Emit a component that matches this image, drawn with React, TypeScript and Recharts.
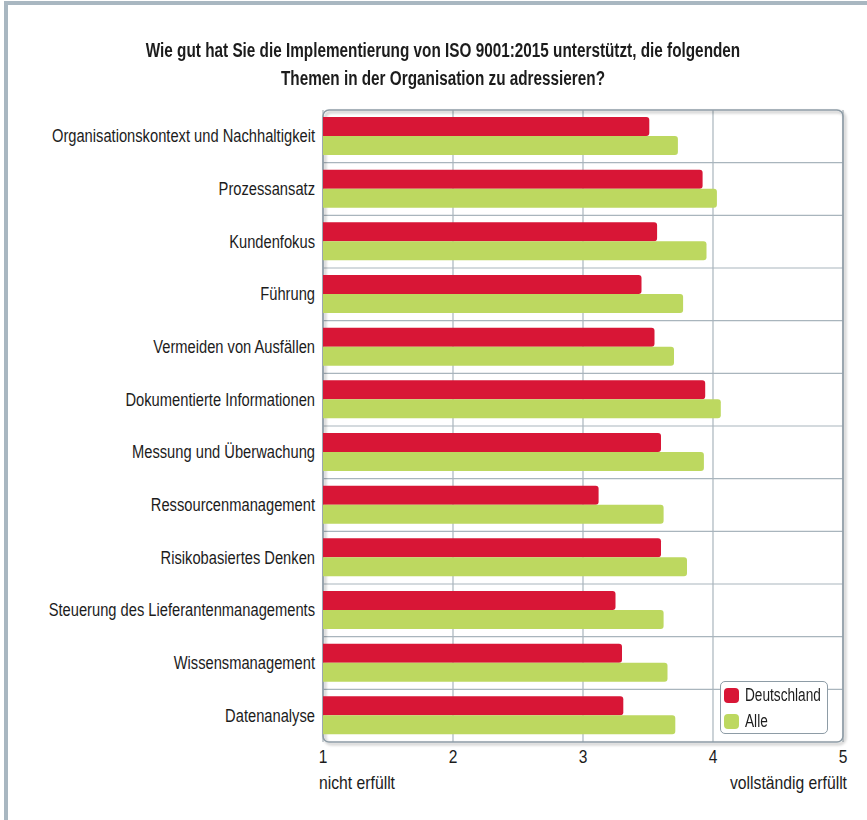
import React from 'react';
import { BarChart, Bar, XAxis, YAxis, CartesianGrid, ReferenceArea, Legend } from 'recharts';

const categories = [
  'Organisationskontext und Nachhaltigkeit',
  'Prozessansatz',
  'Kundenfokus',
  'Führung',
  'Vermeiden von Ausfällen',
  'Dokumentierte Informationen',
  'Messung und Überwachung',
  'Ressourcenmanagement',
  'Risikobasiertes Denken',
  'Steuerung des Lieferantenmanagements',
  'Wissensmanagement',
  'Datenanalyse',
];
const deutschland = [3.51, 3.92, 3.57, 3.45, 3.55, 3.94, 3.6, 3.12, 3.6, 3.25, 3.3, 3.31];
const alle = [3.73, 4.03, 3.95, 3.77, 3.7, 4.06, 3.93, 3.62, 3.8, 3.62, 3.65, 3.71];
const xTicks = [1, 2, 3, 4, 5];
const scaleLow = 'nicht erfüllt';
const scaleHigh = 'vollständig erfüllt';
const seriesNames = ['Deutschland', 'Alle'];
const titleLines = [
  'Wie gut hat Sie die Implementierung von ISO 9001:2015 unterstützt, die folgenden',
  'Themen in der Organisation zu adressieren?',
];

const FONT = '"Liberation Sans", Arial, sans-serif';
const RED = '#d81636';
const GREEN = '#bdd860';
const TEXT = '#1c1c1c';
const GRID = '#a9b5bd';
const SX = 0.84;

const data = categories.map((c, i) => ({ name: c, de: deutschland[i], alle: alle[i] }));
const colors = [RED, GREEN];

const CText = ({ x, y, anchor, size, sx, children }: any) => (
  <text
    transform={`translate(${x},${y}) scale(${sx},1)`}
    textAnchor={anchor}
    fontSize={size}
    fill={TEXT}
    fontFamily={FONT}
  >
    {children}
  </text>
);

const XTick = (props: any) => {
  const { x, y, payload } = props;
  const v = payload.value;
  return (
    <g>
      <CText x={x} y={y + 21} anchor="middle" size={19} sx={0.82}>
        {v}
      </CText>
      {v === 1 && (
        <CText x={x - 4} y={y + 47} anchor="start" size={18.5} sx={0.85}>
          {scaleLow}
        </CText>
      )}
      {v === 5 && (
        <CText x={x + 4} y={y + 47} anchor="end" size={18.5} sx={0.85}>
          {scaleHigh}
        </CText>
      )}
    </g>
  );
};

const YTick = (props: any) => {
  const { x, y, payload } = props;
  return (
    <CText x={x} y={y + 6} anchor="end" size={17.5} sx={SX}>
      {payload.value}
    </CText>
  );
};

const LegendBox = () => (
  <div
    style={{
      border: '1px solid #8e9ca6',
      borderRadius: 5,
      background: '#fff',
      width: 108,
      height: 53,
      boxSizing: 'border-box',
      padding: '0 0 0 3px',
      fontFamily: FONT,
      fontSize: 17.5,
      color: TEXT,
    }}
  >
    {seriesNames.map((n, i) => (
      <div key={n} style={{ display: 'flex', alignItems: 'center', height: 26, whiteSpace: 'nowrap' }}>
        <span
          style={{
            display: 'inline-block',
            flex: '0 0 auto',
            width: 15,
            height: 15,
            borderRadius: 4,
            background: colors[i],
            marginRight: 6,
          }}
        />
        <span style={{ display: 'inline-block', transform: 'scaleX(0.78)', transformOrigin: 'left center' }}>{n}</span>
      </div>
    ))}
  </div>
);

export default function App() {
  return (
    <div style={{ position: 'absolute', left: 0, top: 0, width: 867, height: 820, background: '#fff', fontFamily: FONT }}>
      <div style={{ position: 'absolute', left: 4, top: 1, width: 863, height: 4, background: '#a9b7c1' }} />
      <div style={{ position: 'absolute', left: 4, top: 1, width: 4, height: 819, background: '#a9b7c1' }} />
      <div
        style={{
          position: 'absolute',
          left: 43,
          top: 36,
          width: 800,
          textAlign: 'center',
          fontWeight: 'bold',
          fontSize: 19.5,
          lineHeight: '28px',
          color: TEXT,
          whiteSpace: 'nowrap',
        }}
      >
        {titleLines.map((l) => (
          <div key={l} style={{ transform: 'scaleX(0.785)', transformOrigin: 'center' }}>
            {l}
          </div>
        ))}
      </div>
      <div style={{ position: 'absolute', left: 0, top: 0 }}>
        <BarChart
          width={867}
          height={820}
          data={data}
          layout="vertical"
          margin={{ top: 110, right: 24, bottom: 48, left: 0 }}
          barGap={0}
          barSize={19}
        >
          <defs>
            <filter id="plotShadow" x="-5%" y="-5%" width="110%" height="110%">
              <feDropShadow dx="2" dy="2" stdDeviation="1.5" floodColor="#000" floodOpacity="0.35" />
            </filter>
          </defs>
          <CartesianGrid
            stroke={GRID}
            strokeWidth={1.2}
            horizontalCoordinatesGenerator={({ offset }: any) =>
              categories.slice(1).map((_, i) => offset.top + ((i + 1) * offset.height) / categories.length)
            }
          />
          <XAxis
            type="number"
            domain={[1, 5]}
            ticks={xTicks}
            axisLine={false}
            tickLine={false}
            tickSize={0}
            tickMargin={0}
            height={30}
            tick={<XTick />}
            interval={0}
          />
          <YAxis
            type="category"
            dataKey="name"
            width={323}
            axisLine={false}
            tickLine={false}
            tickSize={0}
            tickMargin={8}
            interval={0}
            tick={<YTick />}
          />
          <Bar dataKey="de" name={seriesNames[0]} fill={RED} radius={[0, 3, 3, 0]} isAnimationActive={false} />
          <Bar dataKey="alle" name={seriesNames[1]} fill={GREEN} radius={[0, 3, 3, 0]} isAnimationActive={false} />
          <ReferenceArea
            x1={1}
            x2={5}
            fill="none"
            stroke="#8d9ba5"
            strokeWidth={1.5}
            radius={6}
            filter="url(#plotShadow)"
            ifOverflow="visible"
          />
          <Legend
            layout="vertical"
            align="center"
            verticalAlign="middle"
            wrapperStyle={{ left: 720, top: 681, width: 108, height: 53 }}
            content={<LegendBox />}
          />
        </BarChart>
      </div>
    </div>
  );
}
